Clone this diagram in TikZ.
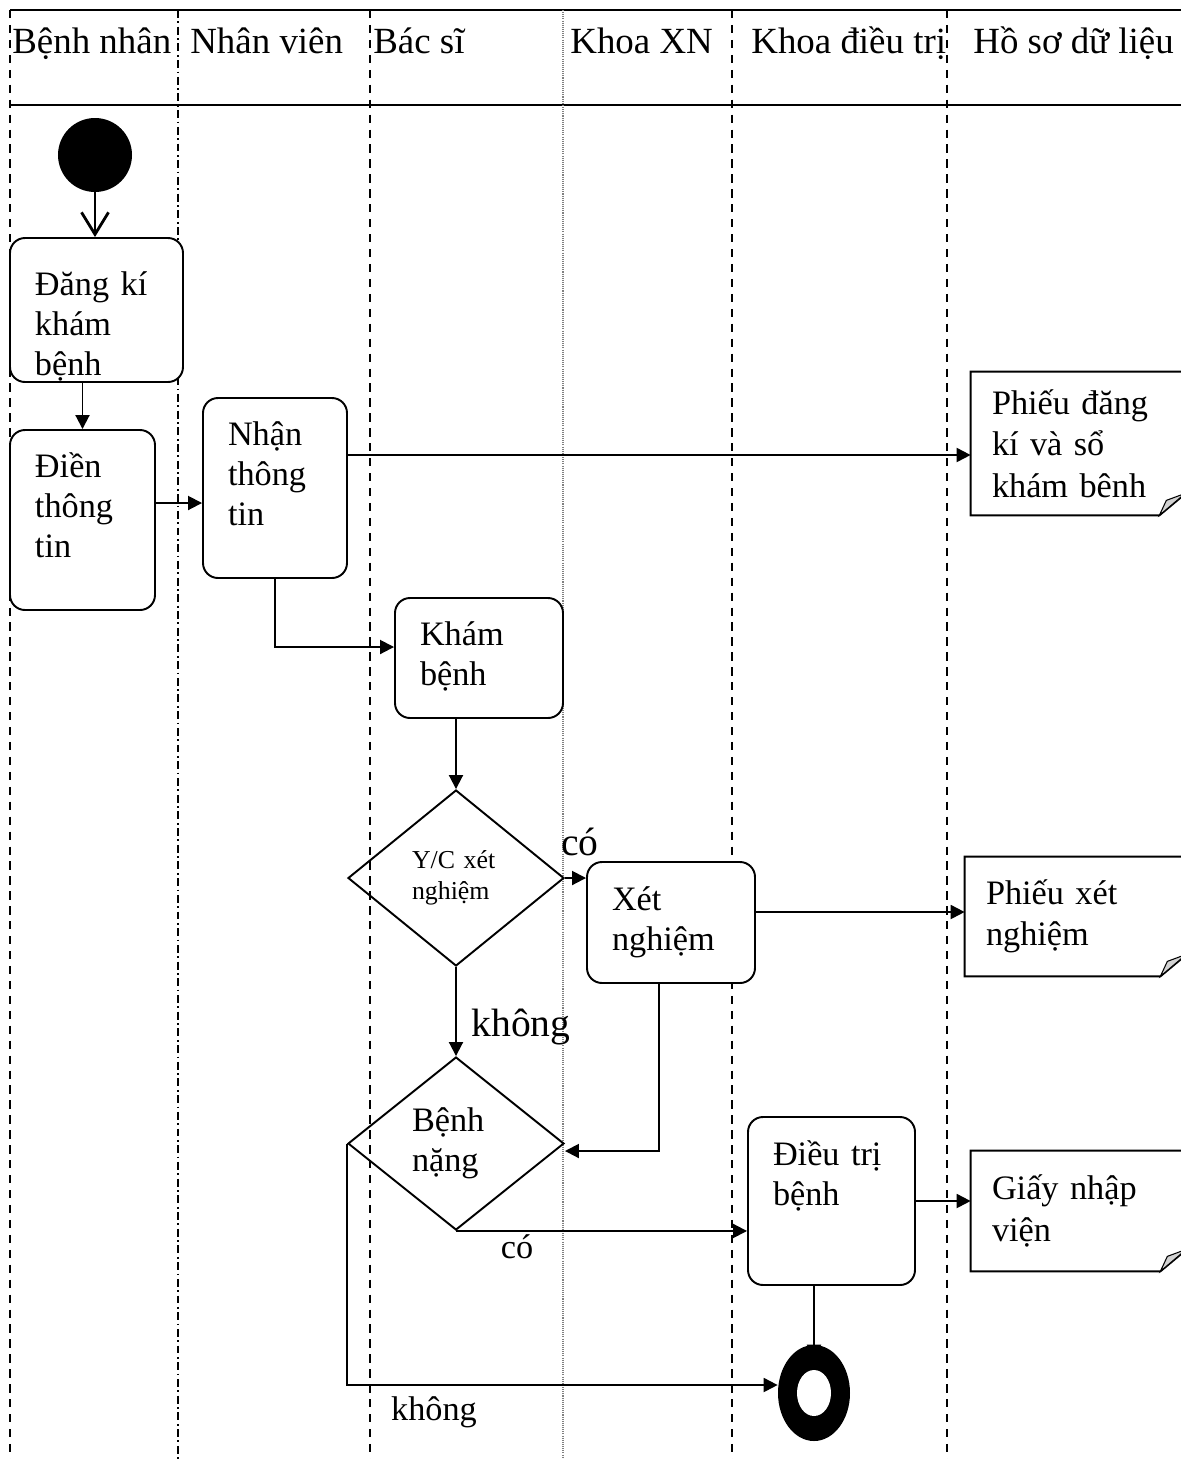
\documentclass[tikz,border=0pt]{standalone}
\usepackage{fontspec}
\setmainfont{Liberation Serif}
\usetikzlibrary{shapes.geometric,arrows.meta}

\begin{document}
\begin{tikzpicture}[x=0.2mm,y=-0.2mm,
  lane/.style={line width=.85pt, dash pattern=on 4.7pt off 3.8pt},
  hdr/.style={anchor=base west, inner sep=0pt, font=\fontsize{21}{25}\selectfont},
  act/.style={draw, line width=1.1pt, fill=white, rounded corners=3mm,
    inner xsep=5mm, inner ysep=0pt, text height=5mm, font=\fontsize{19.5}{22.8}\selectfont},
  doc/.style={fill=white, inner xsep=4.2mm, inner ysep=0pt,
    font=\fontsize{19.5}{23.5}\selectfont},
  dec/.style={draw, diamond, line width=1.1pt, inner sep=0pt, text width=17.6mm,
    minimum width=43.2mm, font=\fontsize{19.5}{22.8}\selectfont},
  startnode/.style={circle, fill=black, minimum size=14.8mm, inner sep=0pt},
  endnode/.style={ellipse, fill=black, minimum width=14.4mm, minimum height=19.2mm, inner sep=0pt},
  lbl/.style={inner sep=0pt, font=\fontsize{19.5}{22.8}\selectfont},
  arr/.style={line width=1.1pt, -{Triangle[length=2.8mm,width=2.8mm]}}]
  \useasboundingbox (0,0) rectangle (1181,1459);

  \draw[line width=1.1pt] (10,10) -- (1181,10);
  \draw[line width=1.1pt] (10,105) -- (1181,105);
  \draw[lane] (10,10) -- (10,1459);
  \draw[lane, dash pattern=on 4.5pt off 2pt on 1pt off 2pt] (178,10) -- (178,1459);
  \draw[lane] (370,10) -- (370,1459);
  \draw[line width=.6pt, gray, dash pattern=on .6pt off .6pt] (563,10) -- (563,1459);
  \draw[lane] (732,10) -- (732,1459);
  \draw[lane] (947,10) -- (947,1459);

  \node[hdr] (hbn) at (12,53) {Bệnh nhân};
  \node[hdr] (hnv) at (190,53) {Nhân viên};
  \node[hdr] (hbs) at (373,53) {Bác sĩ};
  \node[hdr] (hxn) at (570,53) {Khoa XN};
  \node[hdr] (hdt) at (751,53) {Khoa điều trị};
  \node[hdr] (hhs) at (973,53) {Hồ sơ dữ liệu};

  \node[startnode] (start) at (95,155) {};
  \node[act, text width=24.6mm, minimum height=28.8mm, text depth=11mm] (dk) at (96.5,310) {Đăng kí\\khám\\bệnh};
  \node[act, text width=19mm, minimum height=36mm, text depth=22.2mm] (dt) at (82.5,520) {Điền\\thông\\tin};
  \node[act, text width=18.8mm, minimum height=36mm, text depth=22.2mm] (nt) at (275,488) {Nhận\\thông\\tin};
  \node[act, text width=23.6mm, minimum height=24mm, text depth=10.2mm] (kb) at (479,658) {Khám\\bệnh};
  \node[dec, minimum height=35.2mm, font=\fontsize{14.7}{17.5}\selectfont] (d1) at (456,878) {Y/C xét\\nghiệm};
  \node[act, text width=23.6mm, minimum height=24.2mm, text depth=10mm] (xn) at (671,922.5) {Xét\\nghiệm};
  \node[dec, minimum height=34.6mm] (d2) at (456,1143.5) {Bệnh\\nặng};
  \node[act, text width=23.4mm, minimum height=33.6mm, text depth=19.4mm] (dtb) at (831.5,1201) {Điều trị\\bệnh};
  \node[endnode] (end) at (814,1393) {};
  \fill[white] (end.center) ellipse (3.4mm and 4.6mm);

  \node[doc, text width=35.2mm, minimum height=28.6mm] (doc1) at (1080,443.5) {Phiếu đăng\\kí và sổ\\khám bênh};
  \node[doc, text width=36.6mm, minimum height=23.8mm] (doc2) at (1077.5,916.5) {Phiếu xét\\nghiệm};
  \node[doc, text width=35.4mm, minimum height=24mm] (doc3) at (1080.5,1211) {Giấy nhập\\viện};
  \foreach \d in {doc1,doc2,doc3}{
    \draw[line width=1.1pt] (\d.north west) -- (\d.north east) -- ([shift={(0,-25)}]\d.south east)
      -- ([shift={(-30,0)}]\d.south east) -- (\d.south west) -- cycle;
    \filldraw[line width=.6pt, fill=gray!35] ([shift={(-30,0)}]\d.south east)
      -- ([shift={(-23,-15)}]\d.south east) -- ([shift={(-4,-22)}]\d.south east) -- cycle;
  }

  \draw[line width=1.1pt, -{Straight Barb[length=4.4mm,width=5.4mm,line width=1.6pt]}] (start) -- (start |- dk.north);
  \draw[arr] (dk.south -| dt.north) -- (dt.north);
  \draw[arr] (dt.east |- 0,503) -- (nt.west |- 0,503);
  \draw[arr] (nt.east |- 0,455) -- (doc1.west |- 0,455);
  \draw[arr] (nt.south) |- (kb.west |- 0,647);
  \draw[arr] (kb.south -| d1.north) -- (d1.north);
  \draw[arr] (d1.east) -- (d1.east -| xn.west);
  \draw[arr] (xn.east |- 0,912) -- (doc2.west |- 0,912);
  \draw[arr] (d1.south) -- (d2.north);
  \draw[arr] (xn.south -| 659,0) |- (d2.east |- 0,1151);
  \draw[arr] (d2.south) -- (d2.south -| dtb.west);
  \draw[arr] (dtb.east) -- (dtb.east -| doc3.west);
  \draw[arr] (dtb.south -| end) -- ([shift={(0,14)}]end.north);
  \draw[arr] (d2.west) |- ([shift={(0,-8)}]end.west);

  \node[lbl, font=\fontsize{22.5}{26}\selectfont, anchor=base] (co1) at (580,855) {có};
  \node[lbl, font=\fontsize{22.5}{26}\selectfont, anchor=base] (kh1) at (521,1036) {không};
  \node[lbl, anchor=base] (co2) at (517,1258) {có};
  \node[lbl, anchor=base] (kh2) at (434,1420) {không};
\end{tikzpicture}
\end{document}
